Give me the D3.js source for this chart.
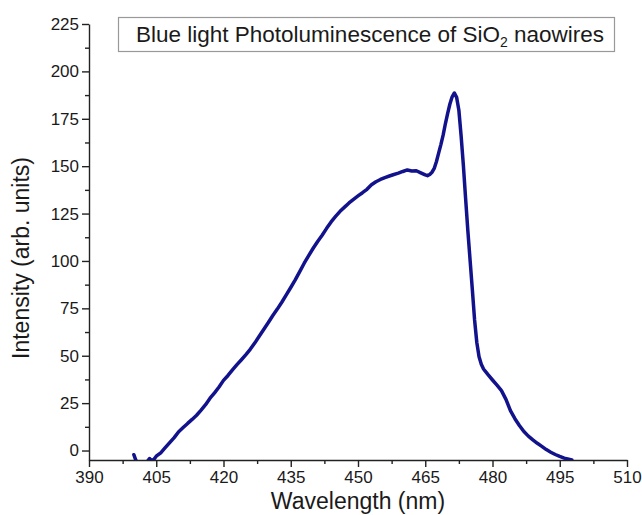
<!DOCTYPE html>
<html>
<head>
<meta charset="utf-8">
<script src="https://cdn.jsdelivr.net/npm/d3@7"></script>
<style>
  body { margin: 0; background: #fff; }
  svg text { font-family: "Liberation Sans", Arial, sans-serif; fill: #1a1a1a; }
  .axis path, .axis line { stroke: #222; stroke-width: 1.4; }
</style>
</head>
<body>
<div class="chart"></div>
<script>
const wavelength = [400, 400.5, 401, 402, 403, 403.5, 404, 404.5, 405, 406, 407, 408, 409, 410,
  411, 412, 413, 414, 415, 416, 417, 418, 419, 420, 421, 422, 423, 424, 425, 426, 427, 428, 429, 430,
  431, 432, 433, 434, 435, 436, 437, 438, 439, 440, 441, 442, 443, 444, 445, 446, 447, 448, 449, 450,
  451, 452, 453, 454, 455, 456, 457, 458, 459, 460, 461, 462, 463, 464, 465, 465.5, 466, 466.5, 467,
  467.5, 468, 468.5, 469, 469.5, 470, 470.5, 471, 471.5, 472, 472.5, 473, 473.5, 474, 474.5, 475,
  475.5, 476, 476.5, 477, 477.5, 478, 479, 480, 481, 482, 483, 484, 485, 486, 487, 488, 489, 490,
  491, 492, 493, 494, 495, 496, 497, 497.7]

const intensity = [-2.2, -5.5, -6, -6, -5.8, -4.2, -5.3, -4.6, -3.0, -1.2, 1.5, 4.2, 6.8, 9.9,
  12.1, 14.3, 16.4, 18.6, 21.3, 24.2, 27.6, 30.4, 33.5, 37.0, 39.6, 42.5, 45.3, 47.9, 50.6, 53.5, 56.8, 60.4, 64.0, 67.5,
  71.2, 74.6, 78.2, 82.1, 86.0, 90.0, 94.4, 98.8, 102.8, 106.7, 110.3, 113.6, 117.2, 120.6, 123.5, 126.2, 128.4, 130.6, 132.5, 134.3,
  136.0, 137.8, 140.2, 141.8, 143.0, 144.0, 144.8, 145.6, 146.3, 147.2, 148.0, 147.5, 147.6, 146.5, 145.4, 145.0, 145.6, 146.8, 148.8,
  152.5, 157.0, 161.5, 166.5, 172.5, 177.8, 182.8, 186.6, 188.6, 186.3, 179.5, 166.0, 150.5, 133.0, 116.0, 100.5,
  85.0, 69.0, 57.0, 49.5, 45.5, 43.0, 40.0, 37.2, 34.5, 31.6, 27.0, 21.0, 16.8, 13.2, 10.0, 7.6, 5.6, 3.8,
  2.2, 0.5, -0.9, -2.1, -3.1, -4.0, -4.6, -5.0]

const xTicks = [390, 405, 420, 435, 450, 465, 480, 495, 510]
const yTicks = [0, 25, 50, 75, 100, 125, 150, 175, 200, 225]

const width = 642
const height = 515
const margin = {top: 24, right: 15, bottom: 55, left: 89}

const data = wavelength.map((w, i) => ({ w: w, v: intensity[i] }))

const x = d3.scaleLinear().domain([390, 510]).range([margin.left, width - margin.right])
const y = d3.scaleLinear().domain([-5, 225]).range([height - margin.bottom, margin.top])

const svg = d3.select(".chart")
.append("svg")
.attr("width", width)
.attr("height", height)

svg.append("defs").append("clipPath")
.attr("id", "plot")
.append("rect")
.attr("x", x(390))
.attr("y", y(225) - 10)
.attr("width", x(510) - x(390))
.attr("height", y(-5) - y(225) + 10)

// minor ticks first, majors on top
const xMinor = d3.range(397.5, 510, 15)
const yMinor = d3.range(12.5, 225, 25)

svg.append("g")
.attr("class", "axis")
.attr("transform", "translate(0," + y(-5) + ")")
.call(d3.axisBottom(x).tickValues(xMinor).tickSize(4).tickFormat(""))
.select(".domain").remove()

svg.append("g")
.attr("class", "axis")
.attr("transform", "translate(" + x(390) + ",0)")
.call(d3.axisLeft(y).tickValues(yMinor).tickSize(4).tickFormat(""))
.select(".domain").remove()

svg.append("g")
.attr("class", "axis")
.attr("transform", "translate(0," + y(-5) + ")")
.call(d3.axisBottom(x).tickValues(xTicks).tickSize(7).tickSizeOuter(0).tickPadding(4))
.selectAll("text")
.style("font-size", "17px")

svg.append("g")
.attr("class", "axis")
.attr("transform", "translate(" + x(390) + ",0)")
.call(d3.axisLeft(y).tickValues(yTicks).tickSize(7).tickSizeOuter(0).tickPadding(3))
.selectAll("text")
.style("font-size", "17px")

svg.append("text")
.attr("x", (x(390) + x(510)) / 2)
.attr("y", 509)
.attr("text-anchor", "middle")
.style("font-size", "23px")
.text("Wavelength (nm)")

svg.append("text")
.attr("transform", "translate(29," + 258 + ") rotate(-90)")
.attr("text-anchor", "middle")
.style("font-size", "23px")
.text("Intensity (arb. units)")

const line = d3.line()
.x(d => x(d.w))
.y(d => y(d.v))

svg.append("path")
.datum(data)
.attr("clip-path", "url(#plot)")
.attr("d", line)
.style("fill", "none")
.style("stroke", "#12128c")
.style("stroke-width", 3.5)
.style("stroke-linejoin", "round")
.style("stroke-linecap", "round")

svg.append("rect")
.attr("x", 118.5)
.attr("y", 17.5)
.attr("width", 496)
.attr("height", 34)
.style("fill", "#fff")
.style("stroke", "#999")
.style("stroke-width", 1.2)

const title = svg.append("text")
.attr("x", 136)
.attr("y", 42)
.style("font-size", "22.5px")

title.append("tspan").text("Blue light Photoluminescence of SiO")
title.append("tspan").attr("dy", 5).style("font-size", "14px").text("2")
title.append("tspan").attr("dy", -5).text(" naowires")
</script>
</body>
</html>
